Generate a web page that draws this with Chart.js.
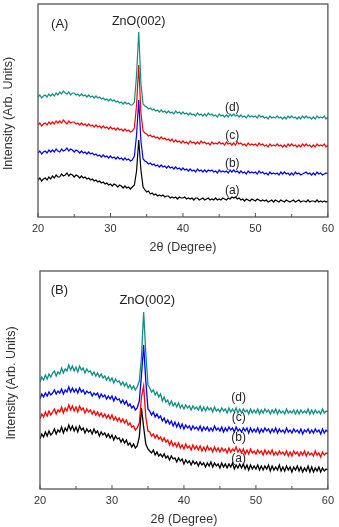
<!doctype html>
<html lang="en">
<head>
<meta charset="utf-8">
<title>ZnO(002) XRD patterns</title>
<style>
  body { margin: 0; background: #fff; }
  .box { position: absolute; left: 0; width: 339px; }
  #boxA { top: 0; height: 260px; }
  #boxB { top: 260px; height: 267px; }
</style>
</head>
<body>
<div class="box" id="boxA"><canvas id="chartA"></canvas></div>
<div class="box" id="boxB"><canvas id="chartB"></canvas></div>

<script src="https://cdn.jsdelivr.net/npm/chart.js/dist/chart.umd.min.js"></script>
<script>
// ---- panel (A) ----
const thetaA = [
  20,20.25,20.5,20.75,21,21.25,21.5,21.75,22,22.25,22.5,22.75,23,23.25,23.5,23.75,24,24.25,24.5,24.75,
  25,25.25,25.5,25.75,26,26.25,26.5,26.75,27,27.25,27.5,27.75,28,28.25,28.5,28.75,29,29.25,29.5,29.75,
  30,30.25,30.5,30.75,31,31.25,31.5,31.75,32,32.25,32.5,32.75,33,
  33.3,33.6,33.9,34.2,34.5,
  34.75,35,35.25,35.5,35.75,36,36.25,36.5,36.75,37,37.25,37.5,37.75,38,38.25,38.5,38.75,39,39.25,39.5,39.75,
  40,40.25,40.5,40.75,41,41.25,41.5,41.75,42,42.25,42.5,42.75,43,43.25,43.5,43.75,44,44.25,44.5,44.75,
  45,45.25,45.5,45.75,46,46.25,46.5,46.75,47,47.25,47.5,47.75,48,48.25,48.5,48.75,49,49.25,49.5,49.75,
  50,50.25,50.5,50.75,51,51.25,51.5,51.75,52,52.25,52.5,52.75,53,53.25,53.5,53.75,54,54.25,54.5,54.75,
  55,55.25,55.5,55.75,56,56.25,56.5,56.75,57,57.25,57.5,57.75,58,58.25,58.5,58.75,59,59.25,59.5,59.75,60];

const A_a = [
  37,39,36,38, 39,37,40,38, 41,39,42,40, 40,43,41,42, 44,41,43,42,
  40,42,41,39, 41,39,40,38, 39,37,38,36, 37,35,36,34, 35,33,34,32,
  33,31,33,32, 30,32,31,29, 31,29,30,28, 30,
  32,46,77,47,30,
  27, 25,26,23,24, 22,23,21,22, 21,22,20,21, 21,19,20,19, 20,18,20,19,
  19,20,18,19, 18,19,17,19, 19,17,18,19, 17,18,19,17, 18,17,19,17,
  18,17,19,18, 17,19,18,20, 19,20,18,19, 17,18,16,18, 17,16,18,17,
  16,18,17,16, 17,16,17,15, 16,17,15,17, 16,15,17,16, 15,17,16,15,
  16,17,15,16, 17,15,16,16, 15,17,15,16, 16,15,17,15, 16,15,16,15, 16];
const A_b = [
  64,66,63,65, 66,64,67,65, 67,65,68,66, 65,68,66,67, 69,66,68,67,
  65,67,66,64, 66,64,65,63, 65,63,64,62, 63,61,62,60, 62,60,61,59,
  61,59,60,58, 60,58,59,57, 59,57,58,56, 57,
  61,82,117,76,58,
  56, 55,53,54,52, 53,51,52,50, 52,50,51,49, 51,49,50,48, 50,48,49,47,
  49,47,48,46, 48,46,47,45, 48,46,47,45, 47,45,47,46, 47,45,46,44,
  47,45,46,45, 46,44,47,45, 47,45,46,44, 46,44,45,43, 46,44,45,44,
  45,43,46,44, 45,43,44,42, 45,43,44,43, 44,42,45,43, 45,43,44,42,
  44,42,45,43, 44,42,43,44, 45,43,44,42, 44,42,45,43, 44,42,43,44, 43];
const A_c = [
  92,94,91,93, 94,92,95,93, 95,93,96,94, 96,94,97,95, 93,96,94,95,
  95,93,94,92, 94,92,93,91, 93,91,92,90, 92,90,91,89, 91,89,90,88,
  90,88,89,87, 89,87,88,86, 88,86,87,85, 86,
  89,112,152,104,86,
  84, 83,81,82,80, 81,79,80,78, 80,78,79,77, 78,76,78,75, 77,75,76,74,
  76,74,75,73, 76,74,75,73, 75,73,76,74, 75,73,74,72, 75,73,74,73,
  75,73,74,72, 75,73,74,72, 74,72,75,73, 74,72,73,71, 74,72,73,72,
  73,71,74,72, 73,71,72,70, 73,71,72,71, 73,71,72,70, 72,70,73,71,
  73,71,72,70, 72,70,73,71, 73,71,72,70, 72,70,73,71, 72,71,73,70, 72];
const A_d = [
  120,122,119,121, 122,120,123,121, 123,121,124,122, 125,123,126,124, 123,125,122,124,
  124,122,123,121, 123,121,122,120, 122,120,121,119, 121,119,120,118, 119,117,118,116,
  118,116,117,115, 116,114,115,113, 115,113,114,112, 112,
  115,142,185,134,113,
  111, 110,108,109,107, 108,106,107,105, 107,105,106,104, 106,104,105,103, 106,104,105,103,
  105,103,104,102, 104,102,103,101, 104,102,103,101, 103,101,104,102, 103,101,102,100,
  103,101,102,100, 102,100,103,101, 103,101,102,100, 102,100,101,99, 102,100,101,100,
  101,99,102,100, 101,99,100,98, 101,99,100,99, 101,99,100,98, 100,98,101,99,
  101,99,100,98, 100,98,101,99, 101,99,100,98, 100,98,101,99, 100,99,101,98, 100];

// ---- panel (B) ----
const thetaB = [
  20,20.25,20.5,20.75,21,21.25,21.5,21.75,22,22.25,22.5,22.75,23,23.25,23.5,23.75,24,24.25,24.5,24.75,
  25,25.25,25.5,25.75,26,26.25,26.5,26.75,27,27.25,27.5,27.75,28,28.25,28.5,28.75,29,29.25,29.5,29.75,
  30,30.25,30.5,30.75,31,31.25,31.5,31.75,32,32.25,32.5,32.75,33,33.25,33.5,
  33.8,34.1,34.4,34.7,35,
  35.25,35.5,35.75,36,36.25,36.5,36.75,37,37.25,37.5,37.75,38,38.25,38.5,38.75,39,39.25,39.5,39.75,
  40,40.25,40.5,40.75,41,41.25,41.5,41.75,42,42.25,42.5,42.75,43,43.25,43.5,43.75,44,44.25,44.5,44.75,
  45,45.25,45.5,45.75,46,46.25,46.5,46.75,47,47.25,47.5,47.75,48,48.25,48.5,48.75,49,49.25,49.5,49.75,
  50,50.25,50.5,50.75,51,51.25,51.5,51.75,52,52.25,52.5,52.75,53,53.25,53.5,53.75,54,54.25,54.5,54.75,
  55,55.25,55.5,55.75,56,56.25,56.5,56.75,57,57.25,57.5,57.75,58,58.25,58.5,58.75,59,59.25,59.5,59.75,60];

const B_a = [
  50,55,52,57, 53,58,54,56, 60,55,59,57, 62,56,61,58, 64,59,63,58,
  62,57,63,59, 61,56,60,57, 59,55,60,56, 58,53,57,54, 56,52,55,51,
  54,49,53,50, 51,47,50,46, 49,44,46,42, 45,41,43,
  52,81,62,45,40,
  38,36,39, 34,37,33,35, 32,35,31,33, 29,33,30,31, 27,31,28,30,
  25,29,26,28, 24,28,25,27, 23,27,24,26, 22,26,23,27, 22,26,23,25,
  21,26,22,25, 21,25,22,26, 20,24,21,25, 21,25,20,24, 19,24,20,23,
  20,24,19,23, 19,23,20,24, 18,23,19,22, 19,24,18,22, 18,23,19,22,
  17,22,19,23, 18,22,17,21, 18,23,17,22, 17,21,18,22, 17,21,18,20, 19];
const B_b = [
  70,75,72,77, 73,78,74,77, 80,75,79,77, 82,76,81,78, 84,79,83,78,
  82,77,83,79, 81,76,80,77, 79,75,78,74, 77,73,76,72, 75,71,74,70,
  74,69,72,68, 71,67,70,66, 69,64,66,62, 63,59,61,
  66,92,103,72,58,
  57,53,55, 51,54,50,52, 48,51,47,49, 44,48,43,46, 42,46,41,44,
  40,45,41,43, 39,44,40,43, 39,43,38,42, 38,43,39,41, 37,42,38,41,
  37,41,38,40, 36,41,37,40, 38,42,37,40, 36,40,35,39, 35,40,36,38,
  35,39,36,38, 34,39,35,38, 35,39,34,37, 34,38,35,37, 34,38,33,37,
  33,38,35,37, 33,37,34,38, 33,37,34,36, 33,38,34,36, 32,37,34,36, 35];
const B_c = [
  90,95,92,96, 93,97,94,96, 99,95,98,96, 100,95,99,97, 102,97,101,97,
  100,96,101,97, 99,95,98,96, 97,93,96,94, 96,91,95,92, 94,90,93,90,
  93,88,92,89, 90,86,89,85, 88,83,85,81, 83,79,81,
  88,114,144,108,80,
  78,74,77, 72,75,71,73, 68,71,66,69, 65,68,63,67, 62,66,61,65,
  60,64,61,63, 59,63,60,62, 59,63,58,62, 59,62,58,61, 58,63,59,61,
  58,62,57,61, 58,62,59,61, 57,62,58,60, 57,61,58,61, 56,61,57,60,
  57,61,56,60, 57,61,58,60, 56,60,57,61, 56,60,57,59, 56,61,57,59,
  56,60,57,59, 56,60,55,59, 57,60,56,59, 56,60,57,59, 55,60,56,59, 57];
const B_d = [
  107,112,109,114, 110,115,112,116, 118,113,117,115, 121,116,120,118, 124,119,123,118,
  122,117,123,119, 121,116,120,117, 118,114,117,113, 116,112,115,111, 113,109,112,108,
  111,106,110,107, 108,104,107,103, 106,101,104,100, 103,99,102,
  108,132,177,136,104,
  101,97,99, 94,97,92,95, 88,92,87,89, 84,88,83,86, 82,86,81,84,
  80,84,81,83, 79,83,80,82, 79,83,78,82, 78,82,79,81, 77,82,78,80,
  77,81,78,80, 76,81,77,80, 77,81,76,80, 76,80,77,79, 75,80,76,79,
  76,80,75,79, 76,80,77,79, 75,79,76,80, 75,79,76,78, 75,80,76,78,
  76,79,75,79, 75,79,76,78, 76,80,75,79, 75,79,76,78, 75,80,76,78, 77];

const curveTags = ['(a)', '(b)', '(c)', '(d)'];
const curveColors = ['#000000', '#0000ff', '#ff0000', '#0f8f84'];
const curveColorsB = ['#000000', '#ff0000', '#0000ff', '#0f8f84'];
const minorTicks = [25, 35, 45, 55];

const FONT = "'Liberation Sans', Arial, sans-serif";

// frame, inward ticks and all the annotations
const decor = {
  id: 'decor',
  afterDraw(chart, args, o) {
    const { ctx, chartArea: ca, scales: { x, y } } = chart;
    ctx.save();
    ctx.strokeStyle = '#555';
    ctx.lineWidth = 1.3;
    ctx.strokeRect(ca.left, ca.top, ca.right - ca.left, ca.bottom - ca.top);
    ctx.lineWidth = 1;
    x.ticks.forEach(t => {
      const px = x.getPixelForValue(t.value);
      ctx.beginPath(); ctx.moveTo(px, ca.bottom); ctx.lineTo(px, ca.bottom - 4); ctx.stroke();
    });
    minorTicks.forEach(v => {
      const px = x.getPixelForValue(v);
      ctx.beginPath(); ctx.moveTo(px, ca.bottom); ctx.lineTo(px, ca.bottom - 3); ctx.stroke();
    });

    ctx.fillStyle = '#222';
    ctx.textAlign = 'center';
    ctx.textBaseline = 'middle';
    ctx.font = '12px ' + FONT;
    o.tags.forEach((p, i) => {
      ctx.fillText(curveTags[i], x.getPixelForValue(p[0]), y.getPixelForValue(p[1]));
    });
    ctx.font = o.peakSize + 'px ' + FONT;
    ctx.fillText('ZnO(002)', x.getPixelForValue(o.peak[0]), y.getPixelForValue(o.peak[1]));
    ctx.font = '13px ' + FONT;
    ctx.fillText(o.panel, x.getPixelForValue(o.panelAt[0]), y.getPixelForValue(o.panelAt[1]));

    ctx.fillStyle = '#333';
    ctx.font = o.titleSize + 'px ' + FONT;
    ctx.fillText('2\u03b8 (Degree)', (ca.left + ca.right) / 2, o.xTitleY);
    ctx.translate(o.yTitleX, (ca.top + ca.bottom) / 2 + 3);
    ctx.rotate(-Math.PI / 2);
    ctx.fillText('Intensity (Arb. Units)', 0, 0);
    ctx.restore();
  }
};

function makeChart(id, theta, series, colors, yMax, pad, axisH, leftW, lineW, deco) {
  const datasets = series.map((s, i) => ({
    label: curveTags[i],
    data: s.map((v, k) => ({ x: theta[k], y: v })),
    borderColor: colors[i],
    borderWidth: lineW,
    pointRadius: 0,
    tension: 0,
    fill: false
  })).reverse();
  return new Chart(document.getElementById(id), {
    type: 'line',
    data: { datasets },
    options: {
      responsive: true,
      maintainAspectRatio: false,
      animation: false,
      layout: { padding: pad, autoPadding: false },
      plugins: { legend: { display: false }, tooltip: { enabled: false }, decor: deco },
      scales: {
        x: {
          type: 'linear', min: 20, max: 60,
          grid: { display: false, drawTicks: false },
          border: { display: false },
          ticks: { stepSize: 10, padding: 5, color: '#333', font: { family: FONT, size: 11 } },
          afterFit: s => { s.height = axisH; }
        },
        y: {
          min: 0, max: yMax,
          grid: { display: false, drawTicks: false },
          border: { display: false },
          ticks: { display: false },
          afterFit: s => { s.width = leftW; }
        }
      }
    },
    plugins: [decor]
  });
}

makeChart('chartA', thetaA, [A_a, A_b, A_c, A_d], curveColors, 213,
  { top: 4, right: 11, left: 0, bottom: 0 }, 43, 38, 1.2, {
    tags: [[46.8, 26], [46.8, 53], [46.8, 81], [46.8, 109]],
    peak: [33.9, 195], peakSize: 12.5, panel: '(A)', panelAt: [23.0, 193],
    xTitleY: 248, yTitleX: 9, titleSize: 12.5
  });

makeChart('chartB', thetaB, [B_a, B_b, B_c, B_d], curveColorsB, 218,
  { top: 11, right: 3, left: 0, bottom: 0 }, 38, 40, 1.3, {
    tags: [[47.6, 30], [47.6, 51], [47.6, 71], [47.6, 91]],
    peak: [34.9, 189], peakSize: 13, panel: '(B)', panelAt: [22.7, 199],
    xTitleY: 260, yTitleX: 12, titleSize: 12.5
  });
</script>
</body>
</html>
